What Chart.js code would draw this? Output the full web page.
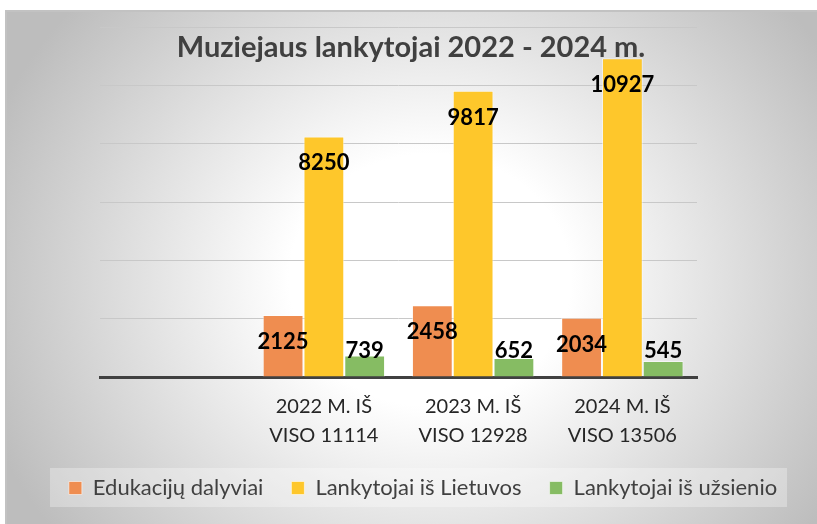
<!DOCTYPE html>
<html>
<head>
<meta charset="utf-8">
<script src="https://cdn.jsdelivr.net/npm/chart.js@4"></script>
<style>
  html, body { margin: 0; padding: 0; background: #ffffff; }
  #wrap { width: 817px; height: 524px; position: relative; }
</style>
</head>
<body>
<div id="wrap"><canvas id="c" width="817" height="524"></canvas></div>
<script>
const chartTitle = "Muziejaus lankytojai 2022 - 2024 m.";
const categories = [
  "",
  ["2022 M. IŠ", "VISO 11114"],
  ["2023 M. IŠ", "VISO 12928"],
  ["2024 M. IŠ", "VISO 13506"]
];
const seriesNames = ["Edukacijų dalyviai", "Lankytojai iš Lietuvos", "Lankytojai iš užsienio"];
const eduValues = [null, 2125, 2458, 2034];
const ltValues = [null, 8250, 9817, 10927];
const abroadValues = [null, 739, 652, 545];
const yTicks = [0, 2000, 4000, 6000, 8000, 10000, 12000];

const bgPlugin = {
  id: 'bgPlugin',
  beforeDraw(chart) {
    const ctx = chart.ctx;
    const W = chart.width, H = chart.height;
    ctx.save();
    ctx.fillStyle = '#ffffff';
    ctx.fillRect(0, 0, W, H);
    const cx = 430, cy = 280, rx = 470, s = 420 / 470;
    ctx.save();
    ctx.beginPath();
    ctx.rect(6, 10, W - 6, H - 10);
    ctx.clip();
    ctx.translate(cx, cy);
    ctx.scale(1, s);
    const g = ctx.createRadialGradient(0, 0, 0, 0, 0, rx);
    g.addColorStop(0, '#ffffff');
    g.addColorStop(0.3, '#ffffff');
    g.addColorStop(1, '#bdbdbd');
    ctx.fillStyle = g;
    ctx.fillRect(-cx - 10, -cy / s - 20, W + 40, (H + 40) / s);
    ctx.restore();
    ctx.strokeStyle = '#c2c2c2';
    ctx.lineWidth = 2;
    ctx.beginPath();
    ctx.moveTo(6, H);
    ctx.lineTo(6, 11);
    ctx.lineTo(W, 11);
    ctx.stroke();
    ctx.fillStyle = 'rgba(255,255,255,0.3)';
    ctx.fillRect(50, 468, 737, 39);
    ctx.restore();
  }
};

const titlePlugin = {
  id: 'titlePlugin',
  afterDraw(chart) {
    const ctx = chart.ctx;
    ctx.save();
    ctx.font = 'bold 29px Lato, "Open Sans", sans-serif';
    ctx.fillStyle = '#404040';
    ctx.textAlign = 'center';
    ctx.textBaseline = 'alphabetic';
    ctx.fillText(chartTitle, 411, 57);
    ctx.restore();
  }
};

const labelPlugin = {
  id: 'labelPlugin',
  afterDatasetsDraw(chart) {
    const ctx = chart.ctx;
    ctx.save();
    ctx.font = 'bold 22px Lato, "Open Sans", sans-serif';
    ctx.fillStyle = '#000000';
    ctx.textAlign = 'center';
    ctx.textBaseline = 'middle';
    chart.data.datasets.forEach((ds, di) => {
      const meta = chart.getDatasetMeta(di);
      meta.data.forEach((bar, i) => {
        const v = ds.data[i];
        if (v === null || v === undefined) return;
        const y = Math.min(bar.y + 27, bar.base - 26);
        ctx.fillText(String(v), bar.x, y);
      });
    });
    ctx.restore();
  }
};

new Chart(document.getElementById('c'), {
  type: 'bar',
  data: {
    labels: categories,
    datasets: [
      { label: seriesNames[0], data: eduValues, backgroundColor: '#EF8D50', borderColor: 'rgba(255,255,255,0.55)', borderWidth: 1 },
      { label: seriesNames[1], data: ltValues, backgroundColor: '#FEC72B', borderColor: 'rgba(255,255,255,0.55)', borderWidth: 1 },
      { label: seriesNames[2], data: abroadValues, backgroundColor: '#86BC63', borderColor: 'rgba(255,255,255,0.55)', borderWidth: 1 }
    ]
  },
  options: {
    responsive: false,
    animation: false,
    devicePixelRatio: 1,
    categoryPercentage: 0.82,
    barPercentage: 1,
    layout: { padding: { left: 30, right: 1, top: 27, bottom: 15 } },
    plugins: {
      title: { display: false },
      tooltip: { enabled: false },
      legend: {
        position: 'bottom',
        labels: {
          boxWidth: 13,
          boxHeight: 13,
          padding: 28,
          color: '#404040',
          font: { family: 'Lato, "Open Sans", sans-serif', size: 22 }
        }
      }
    },
    scales: {
      x: {
        grid: { display: false, drawTicks: false },
        border: { display: true, color: '#404040', width: 3 },
        ticks: {
          color: '#262626',
          padding: 15,
          font: { family: 'Lato, "Open Sans", sans-serif', size: 20, lineHeight: 1.45 },
          maxRotation: 0,
          autoSkip: false
        },
        afterFit(s) { s.height = 72; }
      },
      y: {
        position: 'left',
        min: 0,
        max: 12000,
        afterBuildTicks(s) { s.ticks = yTicks.map(v => ({ value: v })); },
        grid: { color: '#c8c8c8', lineWidth: 1, drawTicks: false },
        border: { display: false },
        ticks: { display: false },
        afterFit(s) { s.width = 70; }
      },
      yRight: {
        position: 'right',
        grid: { display: false, drawTicks: false },
        border: { display: false },
        ticks: { display: false },
        afterFit(s) { s.width = 119; }
      }
    }
  },
  plugins: [bgPlugin, titlePlugin, labelPlugin]
});
</script>
</body>
</html>
